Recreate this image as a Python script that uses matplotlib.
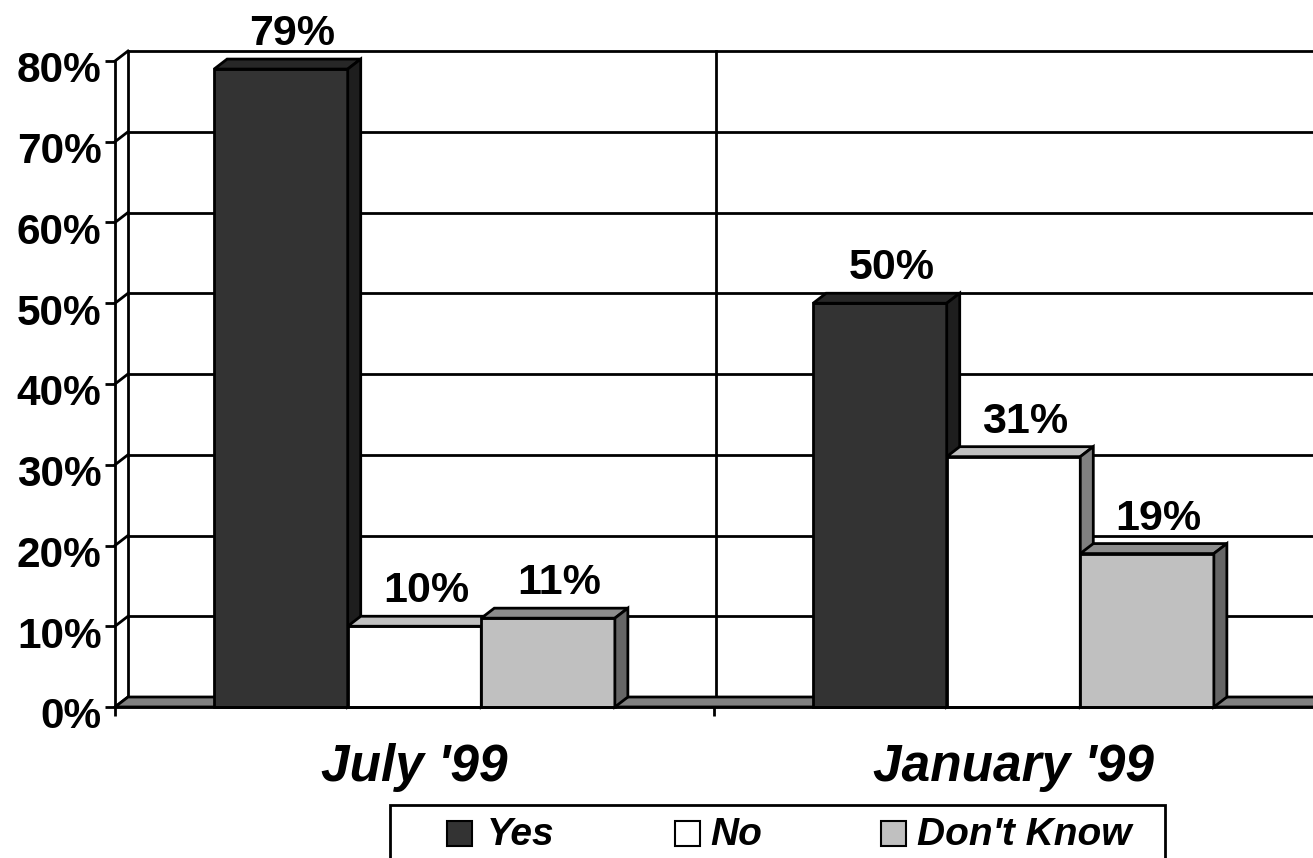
import matplotlib
matplotlib.use("Agg")
import matplotlib.pyplot as plt
from matplotlib.patches import Polygon, Rectangle
from matplotlib.transforms import IdentityTransform, ScaledTranslation

plt.rcParams['font.family'] = ['Liberation Sans', 'DejaVu Sans']

# data
categories = ["July '99", "January '99"]
series = ["Yes", "No", "Don't Know"]
values = {
    "Yes": [79, 50],
    "No": [10, 31],
    "Don't Know": [11, 19],
}
yticks = [0, 10, 20, 30, 40, 50, 60, 70, 80]

# colours: front, top, side
front_c = {"Yes": "#333333", "No": "#ffffff", "Don't Know": "#c0c0c0"}
top_c = {"Yes": "#272727", "No": "#c0c0c0", "Don't Know": "#8c8c8c"}
side_c = {"Yes": "#1e1e1e", "No": "#808080", "Don't Know": "#666666"}

W, H = 1313, 858
DX, DY = 13, 10   # depth of the 3d look, in pixels
bw = 0.223

fig = plt.figure(figsize=(W / 100, H / 100), dpi=100)
ax = fig.add_axes([115 / W, (H - 707) / H, (W - 115) / W, (707 - 61) / H])
ax.set_xlim(-0.5, 1.5)
ax.set_ylim(0, 80)
for s in ['top', 'right']:
    ax.spines[s].set_visible(False)
ax.spines['left'].set_linewidth(2)
ax.spines['bottom'].set_linewidth(2)
ax.spines['left'].set_zorder(20)
ax.spines['bottom'].set_zorder(20)

ax.set_yticks(yticks)
ax.set_yticklabels([f"{t}%" for t in yticks], fontsize=30.5, fontweight='bold')
ax.tick_params(axis='y', length=7.2, width=2, pad=2.5)
for lbl in ax.get_yticklabels():
    lbl.set_transform(lbl.get_transform() + ScaledTranslation(0, -0.06, fig.dpi_scale_trans))

ax.set_xticks([0, 1])
ax.set_xticklabels(categories, fontsize=37, fontweight='bold', style='italic')
ax.tick_params(axis='x', which='major', length=0, pad=26)
ax.set_xticks([-0.5, 0.5], minor=True)
ax.tick_params(axis='x', which='minor', length=6.5, width=2)


def px(x, y):
    return ax.transData.transform((x, y))


def poly(pts, fc, z, lw=2):
    ax.add_patch(Polygon(pts, closed=True, facecolor=fc, edgecolor='black', lw=lw,
                         transform=IdentityTransform(), clip_on=False, zorder=z))


def line(p0, p1, z=1):
    ax.add_line(plt.Line2D([p0[0], p1[0]], [p0[1], p1[1]], color='black', lw=2,
                           transform=IdentityTransform(), clip_on=False, zorder=z))


# back wall gridlines and side wall diagonals
for t in yticks:
    a = px(-0.5, t)
    b = px(1.5, t)
    line(a + [DX, DY], b + [DX + 40, DY])
    line(a, a + [DX, DY])
line(px(-0.5, 0) + [DX, DY], px(-0.5, 80) + [DX, DY])
line(px(0.5, 0) + [2, DY], px(0.5, 80) + [2, DY])

# floor
f0, f1 = px(-0.5, 0), px(1.5, 0) + [40, 0]
poly([f0, f1, f1 + [DX, DY], f0 + [DX, DY]], '#808080', 2)

# bars, left to right so each front face hides the previous side face
z = 3
for ci, cat in enumerate(categories):
    for si, s in enumerate(series):
        v = values[s][ci]
        x = ci + (si - 1) * bw
        ax.bar(x, v, width=bw, color=front_c[s], edgecolor='black', lw=2, zorder=z, clip_on=False)
        tl, tr = px(x - bw / 2, v), px(x + bw / 2, v)
        br = px(x + bw / 2, 0)
        poly([tl, tr, tr + [DX, DY], tl + [DX, DY]], top_c[s], z)
        poly([br, tr, tr + [DX, DY], br + [DX, DY]], side_c[s], z)
        ax.annotate(f"{v}%", xy=(x, v), xytext=(DX / 2 + 5, DY + 14), textcoords='offset pixels',
                    ha='center', va='baseline', fontsize=31, fontweight='bold', zorder=30)
        z += 1

# legend
def fy(y):
    return (H - y) / H

fig.patches.append(Rectangle((390 / W, fy(872)), (1165 - 390) / W, (872 - 805) / H,
                             transform=fig.transFigure, fill=False, edgecolor='black', lw=2))
mk_x = [447, 675, 881]
tx_x = [487, 710, 917]
for s, mx, tx in zip(series, mk_x, tx_x):
    fig.patches.append(Rectangle((mx / W, fy(846)), 25 / W, 25 / H, transform=fig.transFigure,
                                 facecolor=front_c[s], edgecolor='black', lw=1.5))
    fig.text(tx / W, fy(835), s, fontsize=28, fontweight='bold', style='italic',
             ha='left', va='center')

fig.savefig('out.png', dpi=100)
